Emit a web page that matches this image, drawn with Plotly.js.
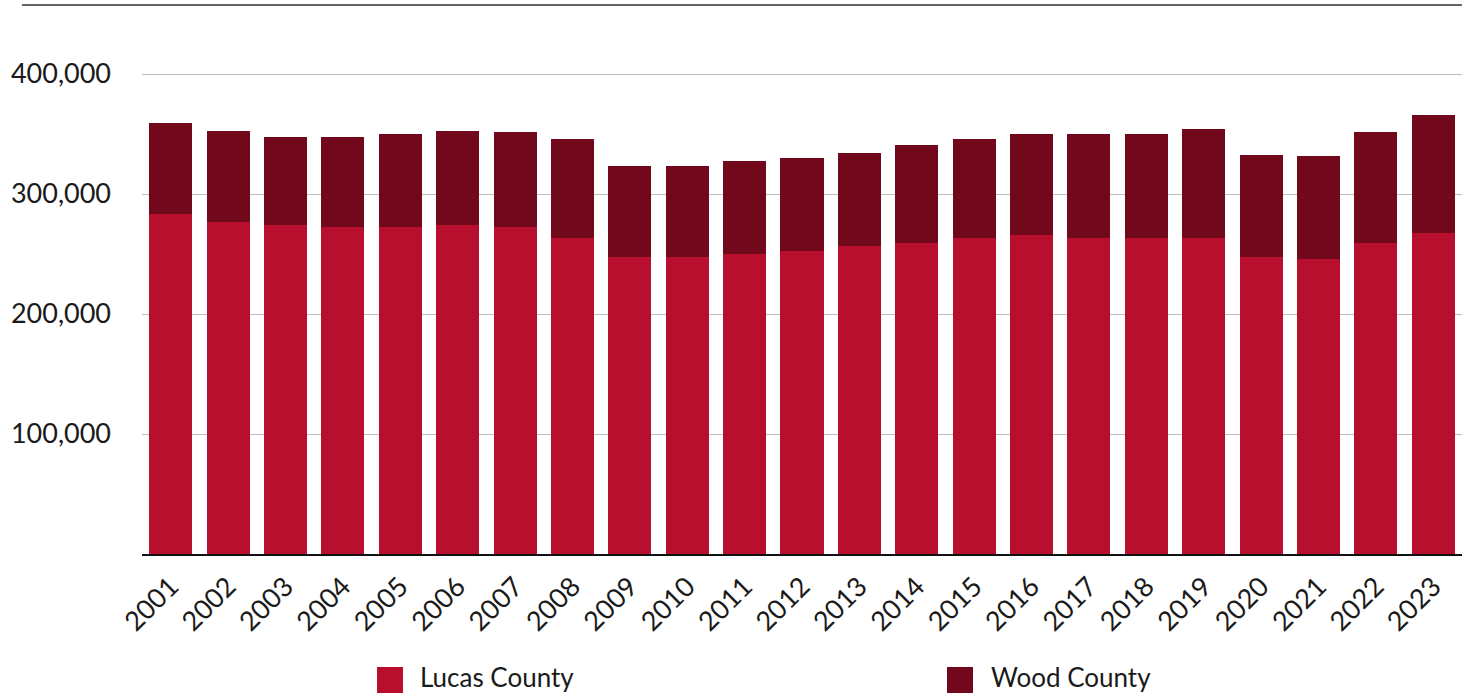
<!DOCTYPE html>
<html>
<head>
<meta charset="utf-8">
<script src="https://cdn.plot.ly/plotly-3.0.1.min.js"></script>
<style>
  html, body { margin: 0; padding: 0; background: #fff; }
  #chart { width: 1468px; height: 694px; }
</style>
</head>
<body>
<div id="chart"></div>
<script>
const years = ['2001','2002','2003','2004','2005','2006','2007','2008','2009','2010','2011','2012','2013','2014','2015','2016','2017','2018','2019','2020','2021','2022','2023'];
const lucasCounty = [283300,276700,274200,272500,272500,274200,272500,263300,247500,247500,250000,252500,256700,259200,263300,265800,263300,263300,263300,247500,245800,259200,267500];
const woodCounty = [75900,75800,73300,75000,77500,78300,79200,82500,75800,75800,77500,77500,77500,81600,82500,84200,86700,86700,90900,85000,85900,92500,98300];
const seriesNames = ['Lucas County', 'Wood County'];
const seriesColors = ['#B80F2F', '#72081C'];
const yTickVals = [100000, 200000, 300000, 400000];
const yTickText = ['100,000', '200,000', '300,000', '400,000'];

const FONT = 'Lato, "Open Sans", sans-serif';

const traces = [
  { type: 'bar', x: years, y: lucasCounty, name: seriesNames[0], marker: { color: seriesColors[0] }, showlegend: false, hoverinfo: 'x+y+name' },
  { type: 'bar', x: years, y: woodCounty, name: seriesNames[1], marker: { color: seriesColors[1] }, showlegend: false, hoverinfo: 'x+y+name' }
];

const legendItems = [
  { sq: [0.17803, 0.19773], tx: 0.2091 },
  { sq: [0.60985, 0.62955], tx: 0.6417 }
];

const shapes = [
  { type: 'line', xref: 'paper', yref: 'paper', x0: -0.0909, x1: 1.0, y0: 1.0398, y1: 1.0398, line: { color: '#333333', width: 1.5 } }
];
const annotations = [];
legendItems.forEach((it, i) => {
  shapes.push({ type: 'rect', xref: 'paper', yref: 'paper', x0: it.sq[0], x1: it.sq[1], y0: -0.2633, y1: -0.2140, fillcolor: seriesColors[i], line: { width: 0 } });
  annotations.push({ xref: 'paper', yref: 'paper', x: it.tx, y: -0.2330, xanchor: 'left', yanchor: 'middle', text: seriesNames[i], showarrow: false, font: { family: FONT, size: 26, color: '#1a1a1a' } });
});

const layout = {
  width: 1468, height: 694,
  margin: { l: 142, r: 6, t: 26, b: 140 },
  paper_bgcolor: '#ffffff', plot_bgcolor: '#ffffff',
  barmode: 'stack',
  bargap: 0.25,
  font: { family: FONT, color: '#1a1a1a' },
  xaxis: {
    type: 'category',
    tickangle: -45,
    tickfont: { family: FONT, size: 27, color: '#1a1a1a' },
    showgrid: false,
    showline: true, linecolor: '#111111', linewidth: 2,
    ticks: '',
    ticklabelstandoff: 4,
    automargin: false
  },
  yaxis: {
    range: [0, 440000],
    tickvals: yTickVals, ticktext: yTickText,
    tickfont: { family: FONT, size: 27, color: '#1a1a1a' },
    showgrid: true, gridcolor: '#bdbdbd', gridwidth: 1,
    zeroline: false, showline: false, ticks: '',
    ticklabelstandoff: 30,
    automargin: false
  },
  shapes: shapes,
  annotations: annotations
};

Plotly.newPlot('chart', traces, layout, { displayModeBar: false, staticPlot: true });
</script>
</body>
</html>
